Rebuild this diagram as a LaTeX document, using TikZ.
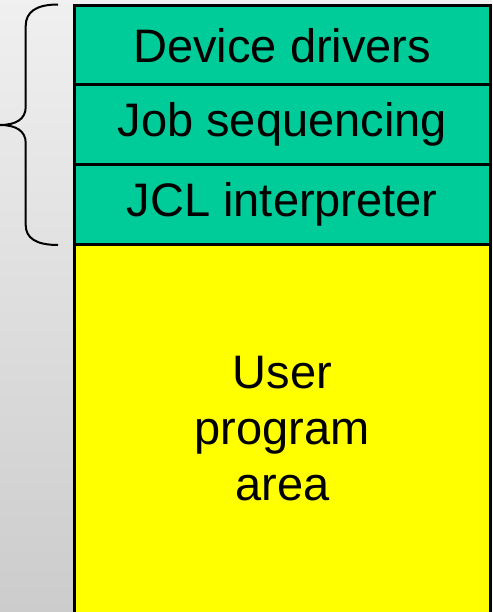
\documentclass[tikz,border=0pt]{standalone}
\usepackage{fontspec}
\setmainfont{Liberation Sans}
\definecolor{osgreen}{HTML}{00CC99}
\definecolor{osyellow}{HTML}{FFFF00}
\newcommand{\layerfont}{\fontsize{47}{56}\selectfont}
\tikzset{
  layer/.style={draw=black, line width=3pt, fill=osgreen, minimum width=415.5pt,
    minimum height=79.5pt, inner sep=0pt, font=\layerfont},
  userarea/.style={layer, fill=osyellow, minimum height=370pt, align=center}
}
\begin{document}
\begin{tikzpicture}[x=1pt,y=-1pt]
  \useasboundingbox (0,0) rectangle (492,612);
  \shade[top color=black!6, bottom color=black!20] (0,0) rectangle (492,612);

  \node[userarea] (user) at (282.25,429) {User\\program\\area};
  \node[layer] (jcl) at (282.25,204.25) {JCL interpreter};
  \node[layer] (jobseq) at (282.25,124.75) {Job sequencing};
  \node[layer] (drivers) at (282.25,45.25) {Device drivers};

  % brace over the resident monitor
  \coordinate (bracetop) at (58,4.5);
  \coordinate (bracebot) at (58,245);
  \draw[line width=2pt] (bracetop) .. controls (36,4.5) and (25.7,12) .. (25.7,26) -- (25.7,107)
    .. controls (25.7,119) and (16,125) .. (0,125)
    .. controls (16,125) and (25.7,131) .. (25.7,143) -- (25.7,225)
    .. controls (25.7,238) and (36,245) .. (bracebot);
\end{tikzpicture}
\end{document}
